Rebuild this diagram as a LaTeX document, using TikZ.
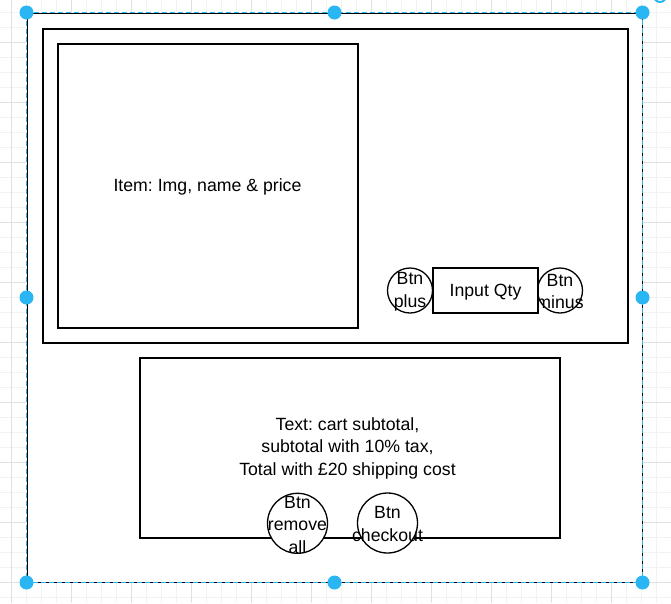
\documentclass[tikz,border=0pt]{standalone}
\usepackage{fontspec}
\setmainfont{Liberation Sans}
\frenchspacing
\definecolor{handleblue}{RGB}{41,182,242}
\definecolor{gridminor}{RGB}{242,242,242}
\definecolor{gridmajor}{RGB}{224,224,224}
\begin{document}
\begin{tikzpicture}[x=1pt,y=-1pt,
	every node/.style={font=\fontsize{17.7}{22.5}\selectfont},
	box/.style={draw=black,fill=white,line width=1.3pt,inner sep=0pt},
	btn/.style={circle,draw=black,fill=white,line width=1.3pt,minimum size=45pt,inner sep=0pt},
	bigbtn/.style={btn,minimum size=60pt},
	lbl/.style={align=center,inner sep=0pt,yshift=-1.2pt},
	handle/.style={circle,fill=handleblue,minimum size=14pt,inner sep=0pt}]
	\useasboundingbox (0,0) rectangle (671,603);
	% Grid
	\foreach \x in {11.7,26.7,...,657} \draw[gridminor,line width=1pt] (\x,0) -- (\x,603);
	\foreach \y in {12.5,27.5,...,598} \draw[gridminor,line width=1pt] (0,\y) -- (671,\y);
	\foreach \x in {11.7,71.7,...,612} \draw[gridmajor,line width=1pt] (\x,0) -- (\x,603);
	\foreach \y in {42.5,102.5,...,583} \draw[gridmajor,line width=1pt] (0,\y) -- (671,\y);
	% Frame
	\node[draw=black,fill=white,line width=1pt,inner sep=0pt,minimum width=615pt,minimum height=569pt] (frame) at (334.5,297.5) {};
	\draw[handleblue,line width=1.3pt,dash pattern=on 5pt off 3pt] (frame.north west) rectangle (frame.south east);
	% Cart item
	\node[box,minimum width=585pt,minimum height=314pt] (cart) at (335.5,186) {};
	\node[box,minimum width=300pt,minimum height=284pt] (item) at (208,186) {};
	% Totals
	\node[box,minimum width=420pt,minimum height=180pt] (totals) at (350,448) {};
	%Buttons
	\node[btn] (plus) at (410,290.5) {};
	\node[btn] (minus) at (560,290.5) {};
	\node[box,minimum width=105pt,minimum height=45pt] (qty) at (485.5,290.5) {};
	\node[bigbtn] (removeall) at (297.5,523.3) {};
	\node[bigbtn] (checkout) at (387.5,523) {};
	%Labels
	\node[lbl] at (207.5,185.5) {Item: Img, name \& price};
	\node[lbl] at (347.5,447) {Text: cart subtotal,\\subtotal with 10\% tax,\\Total with £20 shipping cost};
	\node[lbl] at (qty) {Input Qty};
	\node[lbl] at (plus) {Btn\\plus};
	\node[lbl] at (minus) {Btn\\minus};
	\node[lbl] at (removeall) {Btn\\remove\\all};
	\node[lbl] at (checkout) {Btn\\checkout};
	% Handles
	\foreach \a in {north west,north,north east,west,east,south west,south,south east}
		\node[handle] at (frame.\a) {};
	\draw[handleblue,line width=2pt] (654,-4) arc[start angle=180,end angle=0,radius=6];
\end{tikzpicture}
\end{document}
